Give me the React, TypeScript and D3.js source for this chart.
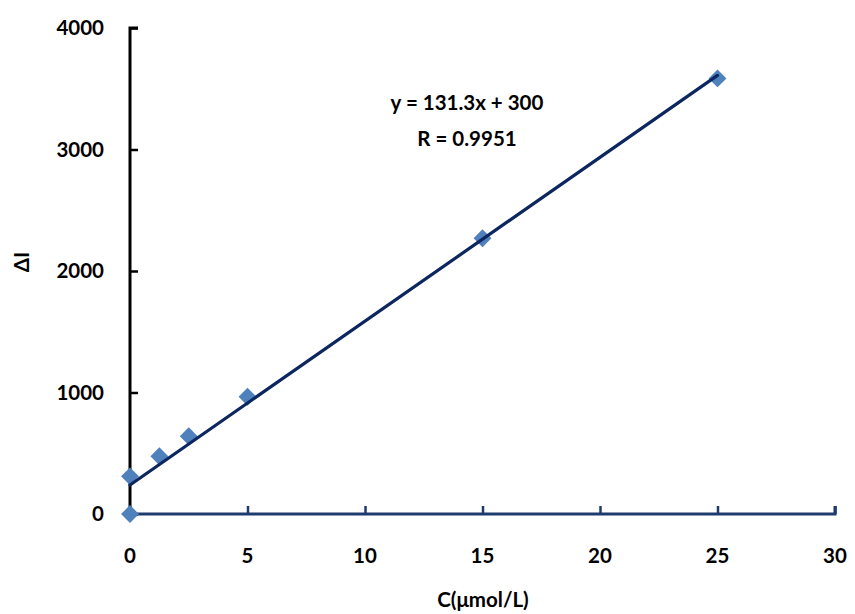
import { useEffect, useRef } from "react";
import * as d3 from "d3";

// ── Data ─────────────────────────────────────────────────────────────────────
const conc = [0, 0, 1.25, 2.5, 5, 15, 25];
const deltaI = [0, 310, 475, 640, 965, 2270, 3585];
const xTicks = [0, 5, 10, 15, 20, 25, 30];
const yTicks = [0, 1000, 2000, 3000, 4000];
const eqLines = ["y = 131.3x + 300", "R = 0.9951"];

const C_MARK = "#4f81bd";
const C_LINE = "#0c2660";
const C_XAXIS = "#1f3a6e";
const FONT = "Lato, 'Open Sans', sans-serif";
const FS = 20.5;

export default function App() {
  const ref = useRef<SVGSVGElement>(null);

  useEffect(() => {
    const svg = d3.select(ref.current);
    svg.selectAll("*").remove();

    const x = d3.scaleLinear().domain([0, 30]).range([130, 835]);
    const y = d3.scaleLinear().domain([0, 4000]).range([514, 28]);

    // ── least squares trend line ──
    const mx = d3.mean(conc)!;
    const my = d3.mean(deltaI)!;
    const sxy = d3.sum(conc, (c, i) => (c - mx) * (deltaI[i] - my));
    const sxx = d3.sum(conc, c => (c - mx) ** 2);
    const slope = sxy / sxx;
    const icpt = my - slope * mx;
    const xMax = d3.max(conc)!;

    const label = (sel: any) => sel
      .attr("font-family", FONT).attr("font-weight", 700)
      .attr("font-size", FS).attr("fill", "#000");

    // ── y axis (black) ──
    const yAx = svg.append("g").attr("transform", `translate(${x(0)},0)`)
      .call(d3.axisRight(y).tickValues(yTicks).tickSize(8).tickFormat(() => ""));
    yAx.select(".domain").attr("stroke", "#000").attr("stroke-width", 3)
      .attr("d", `M8,${y(4000)}H0V${y(0)}`);
    yAx.selectAll(".tick line").attr("stroke", "#000").attr("stroke-width", 2.5);
    svg.append("g").selectAll("text").data(yTicks).join("text")
      .attr("x", 104).attr("y", d => y(d)).attr("dy", "0.35em")
      .attr("text-anchor", "end").call(label)
      .text(d => d);

    // ── x axis (navy) ──
    const xAx = svg.append("g").attr("transform", `translate(0,${y(0)})`)
      .call(d3.axisTop(x).tickValues(xTicks).tickSize(8).tickFormat(() => ""));
    xAx.select(".domain").attr("stroke", C_XAXIS).attr("stroke-width", 3)
      .attr("d", `M${x(0)},0H${x(30)}V-8`);
    xAx.selectAll(".tick line").attr("stroke", C_XAXIS).attr("stroke-width", 2.5);
    svg.append("g").selectAll("text").data(xTicks).join("text")
      .attr("x", d => x(d)).attr("y", 556).attr("dy", "0.35em")
      .attr("text-anchor", "middle").call(label)
      .text(d => d);

    // ── markers ──
    const diamond = d3.symbol().type(d3.symbolSquare).size(160);
    svg.append("g").selectAll("path").data(conc).join("path")
      .attr("d", diamond)
      .attr("transform", (c, i) => `translate(${x(c)},${y(deltaI[i])}) rotate(45)`)
      .attr("fill", C_MARK);

    // ── trend line (on top of markers) ──
    svg.append("line")
      .attr("x1", x(0)).attr("y1", y(icpt))
      .attr("x2", x(xMax)).attr("y2", y(icpt + slope * xMax))
      .attr("stroke", C_LINE).attr("stroke-width", 3.2).attr("stroke-linecap", "round");

    // ── equation ──
    svg.append("g").selectAll("text").data(eqLines).join("text")
      .attr("x", 467).attr("y", (_, i) => 103 + i * 36).attr("dy", "0.35em")
      .attr("text-anchor", "middle").call(label)
      .text(d => d);

    // ── axis titles ──
    svg.append("text")
      .attr("x", 483).attr("y", 600).attr("dy", "0.35em")
      .attr("text-anchor", "middle").call(label)
      .text("C(μmol/L)");
    svg.append("text")
      .attr("transform", `translate(22,262) rotate(-90)`).attr("dy", "0.35em")
      .attr("text-anchor", "middle").call(label)
      .text("ΔI");
  }, []);

  return (
    <svg ref={ref} width={855} height={614}
      style={{ position: "absolute", left: 0, top: 0, background: "#fff" }} />
  );
}
